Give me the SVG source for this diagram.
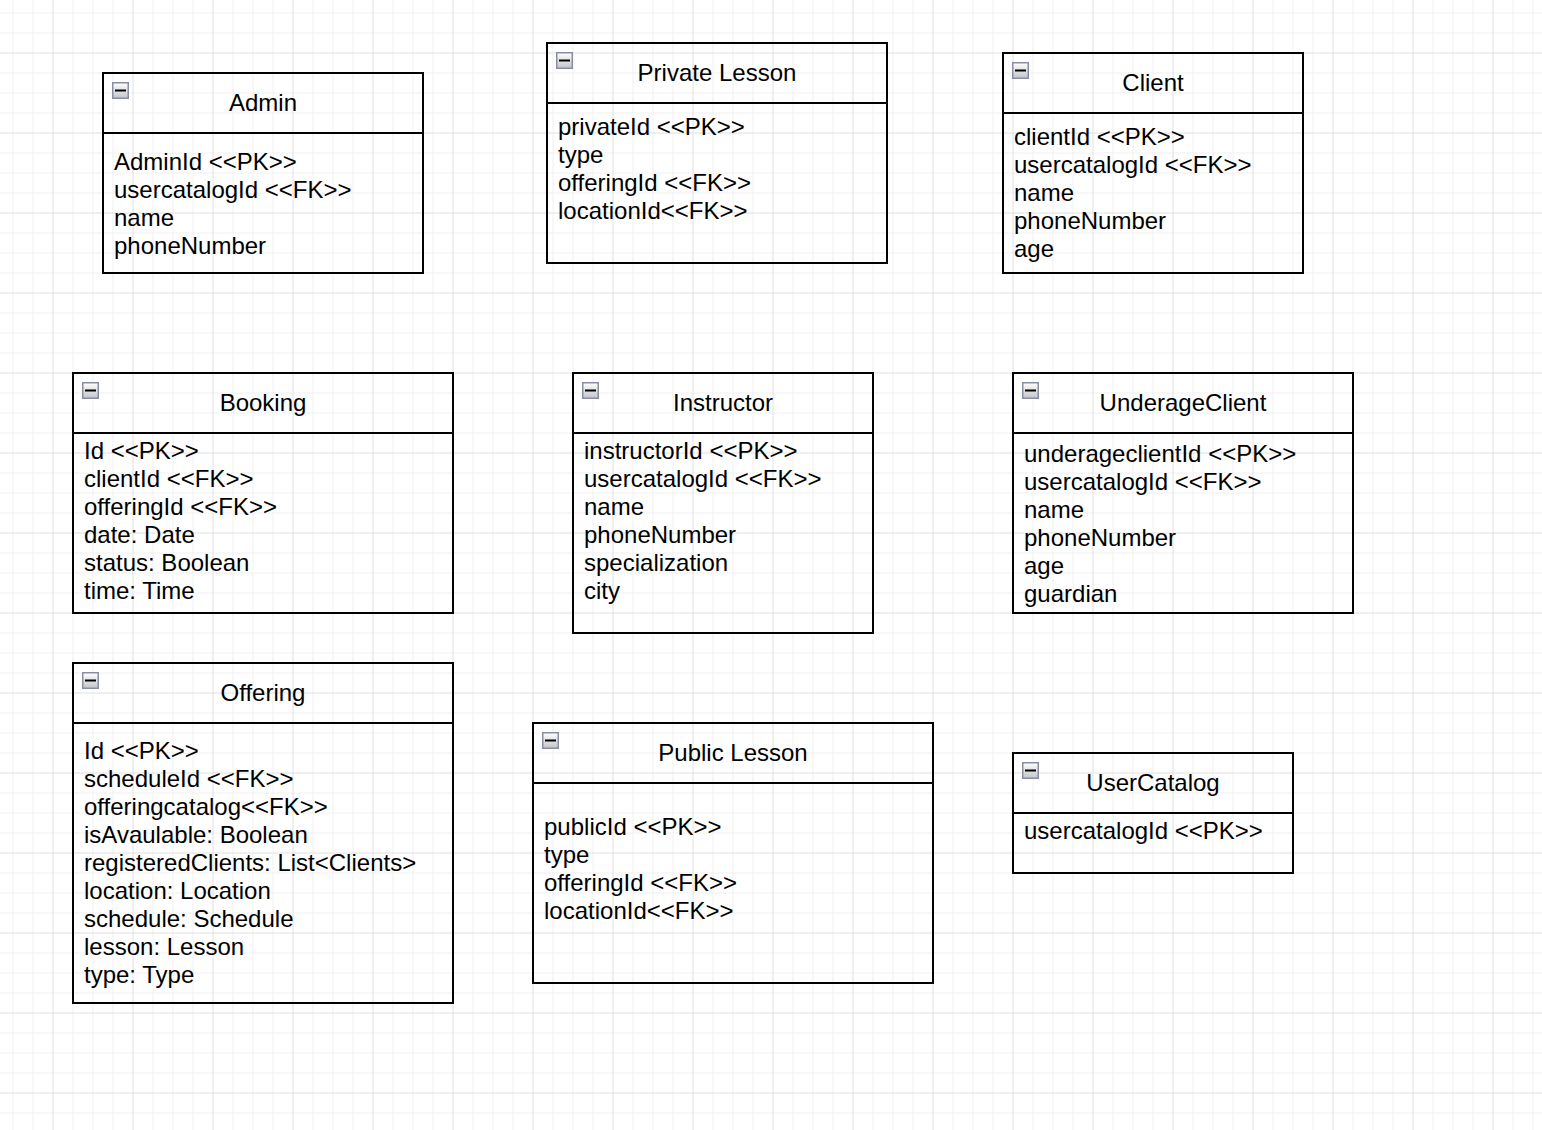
<svg xmlns="http://www.w3.org/2000/svg" width="1542" height="1130" viewBox="0 0 1542 1130">
<style>
.box{fill:none;stroke:#000;stroke-width:2}
.t{font-family:"Liberation Sans",Arial,Helvetica,sans-serif;font-size:24px;fill:#000}
.ttl{text-anchor:middle}
.ic{fill:url(#icg);stroke:#8a8fa0;stroke-width:1.5}
.dash{stroke:#000;stroke-width:2}
</style>
<defs>
<linearGradient id="icg" x1="0" y1="0" x2="0" y2="1">
<stop offset="0" stop-color="#ffffff"/>
<stop offset="1" stop-color="#c4c5ca"/>
</linearGradient>
<pattern id="grid" patternUnits="userSpaceOnUse" x="3" y="3" width="80" height="80">
<path d="M10 0V80M30 0V80M70 0V80M0 10H80M0 30H80M0 70H80" stroke="#f0f0f0" stroke-width="1" fill="none"/>
<path d="M50 0V80M0 50H80" stroke="#e0e0e0" stroke-width="1" fill="none"/>
</pattern>
<g id="minus">
<rect class="ic" x="0.75" y="0.75" width="15.5" height="15.5"/>
<line class="dash" x1="3" y1="8.5" x2="14" y2="8.5"/>
</g>
</defs>
<rect x="0" y="0" width="1542" height="1130" fill="#ffffff"/>
<rect x="0" y="0" width="1542" height="1130" fill="url(#grid)"/>

<g id="connectors"></g>

<g id="admin">
<rect class="box" x="103" y="73" width="320" height="200"/>
<line class="box" x1="103" y1="133" x2="423" y2="133"/>
<use href="#minus" x="112" y="82"/>
<text class="t ttl" x="263" y="111">Admin</text>
<text class="t"><tspan x="114" y="170">AdminId &lt;&lt;PK&gt;&gt;</tspan><tspan x="114" y="198">usercatalogId &lt;&lt;FK&gt;&gt;</tspan><tspan x="114" y="226">name</tspan><tspan x="114" y="254">phoneNumber</tspan></text>
</g>

<g id="private-lesson">
<rect class="box" x="547" y="43" width="340" height="220"/>
<line class="box" x1="547" y1="103" x2="887" y2="103"/>
<use href="#minus" x="556" y="52"/>
<text class="t ttl" x="717" y="81">Private Lesson</text>
<text class="t"><tspan x="558" y="135">privateId &lt;&lt;PK&gt;&gt;</tspan><tspan x="558" y="163">type</tspan><tspan x="558" y="191">offeringId &lt;&lt;FK&gt;&gt;</tspan><tspan x="558" y="219">locationId&lt;&lt;FK&gt;&gt;</tspan></text>
</g>

<g id="client">
<rect class="box" x="1003" y="53" width="300" height="220"/>
<line class="box" x1="1003" y1="113" x2="1303" y2="113"/>
<use href="#minus" x="1012" y="62"/>
<text class="t ttl" x="1153" y="91">Client</text>
<text class="t"><tspan x="1014" y="145">clientId &lt;&lt;PK&gt;&gt;</tspan><tspan x="1014" y="173">usercatalogId &lt;&lt;FK&gt;&gt;</tspan><tspan x="1014" y="201">name</tspan><tspan x="1014" y="229">phoneNumber</tspan><tspan x="1014" y="257">age</tspan></text>
</g>

<g id="booking">
<rect class="box" x="73" y="373" width="380" height="240"/>
<line class="box" x1="73" y1="433" x2="453" y2="433"/>
<use href="#minus" x="82" y="382"/>
<text class="t ttl" x="263" y="411">Booking</text>
<text class="t"><tspan x="84" y="459">Id &lt;&lt;PK&gt;&gt;</tspan><tspan x="84" y="487">clientId &lt;&lt;FK&gt;&gt;</tspan><tspan x="84" y="515">offeringId &lt;&lt;FK&gt;&gt;</tspan><tspan x="84" y="543">date: Date</tspan><tspan x="84" y="571">status: Boolean</tspan><tspan x="84" y="599">time: Time</tspan></text>
</g>

<g id="instructor">
<rect class="box" x="573" y="373" width="300" height="260"/>
<line class="box" x1="573" y1="433" x2="873" y2="433"/>
<use href="#minus" x="582" y="382"/>
<text class="t ttl" x="723" y="411">Instructor</text>
<text class="t"><tspan x="584" y="459">instructorId &lt;&lt;PK&gt;&gt;</tspan><tspan x="584" y="487">usercatalogId &lt;&lt;FK&gt;&gt;</tspan><tspan x="584" y="515">name</tspan><tspan x="584" y="543">phoneNumber</tspan><tspan x="584" y="571">specialization</tspan><tspan x="584" y="599">city</tspan></text>
</g>

<g id="underage-client">
<rect class="box" x="1013" y="373" width="340" height="240"/>
<line class="box" x1="1013" y1="433" x2="1353" y2="433"/>
<use href="#minus" x="1022" y="382"/>
<text class="t ttl" x="1183" y="411">UnderageClient</text>
<text class="t"><tspan x="1024" y="462">underageclientId &lt;&lt;PK&gt;&gt;</tspan><tspan x="1024" y="490">usercatalogId &lt;&lt;FK&gt;&gt;</tspan><tspan x="1024" y="518">name</tspan><tspan x="1024" y="546">phoneNumber</tspan><tspan x="1024" y="574">age</tspan><tspan x="1024" y="602">guardian</tspan></text>
</g>

<g id="offering">
<rect class="box" x="73" y="663" width="380" height="340"/>
<line class="box" x1="73" y1="723" x2="453" y2="723"/>
<use href="#minus" x="82" y="672"/>
<text class="t ttl" x="263" y="701">Offering</text>
<text class="t"><tspan x="84" y="759">Id &lt;&lt;PK&gt;&gt;</tspan><tspan x="84" y="787">scheduleId &lt;&lt;FK&gt;&gt;</tspan><tspan x="84" y="815">offeringcatalog&lt;&lt;FK&gt;&gt;</tspan><tspan x="84" y="843">isAvaulable: Boolean</tspan><tspan x="84" y="871">registeredClients: List&lt;Clients&gt;</tspan><tspan x="84" y="899">location: Location</tspan><tspan x="84" y="927">schedule: Schedule</tspan><tspan x="84" y="955">lesson: Lesson</tspan><tspan x="84" y="983">type: Type</tspan></text>
</g>

<g id="public-lesson">
<rect class="box" x="533" y="723" width="400" height="260"/>
<line class="box" x1="533" y1="783" x2="933" y2="783"/>
<use href="#minus" x="542" y="732"/>
<text class="t ttl" x="733" y="761">Public Lesson</text>
<text class="t"><tspan x="544" y="835">publicId &lt;&lt;PK&gt;&gt;</tspan><tspan x="544" y="863">type</tspan><tspan x="544" y="891">offeringId &lt;&lt;FK&gt;&gt;</tspan><tspan x="544" y="919">locationId&lt;&lt;FK&gt;&gt;</tspan></text>
</g>

<g id="user-catalog">
<rect class="box" x="1013" y="753" width="280" height="120"/>
<line class="box" x1="1013" y1="813" x2="1293" y2="813"/>
<use href="#minus" x="1022" y="762"/>
<text class="t ttl" x="1153" y="791">UserCatalog</text>
<text class="t"><tspan x="1024" y="839">usercatalogId &lt;&lt;PK&gt;&gt;</tspan></text>
</g>
</svg>
